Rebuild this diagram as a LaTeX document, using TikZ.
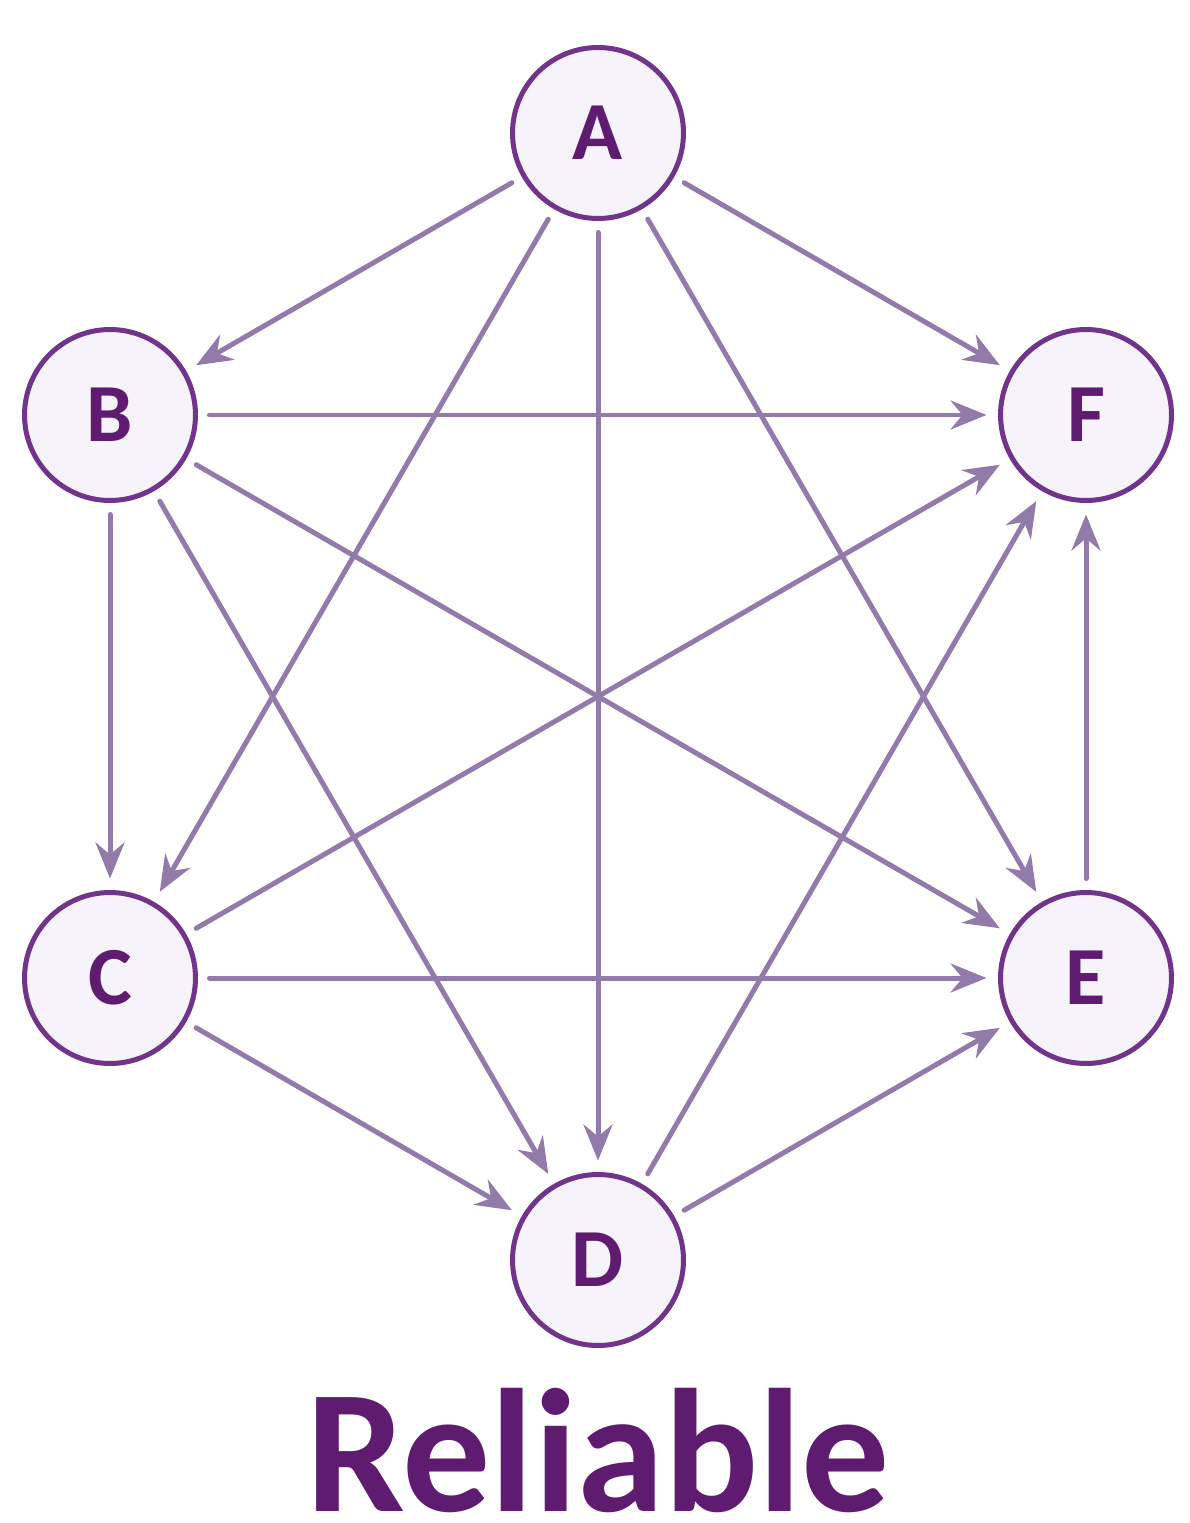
\documentclass[tikz,border=0pt]{standalone}
\usepackage{fontspec}
\setmainfont{Carlito}
\usetikzlibrary{arrows.meta}
\definecolor{vertline}{RGB}{112,52,138}
\definecolor{vertfill}{RGB}{246,243,250}
\definecolor{verttext}{RGB}{94,27,112}
\definecolor{edgecol}{RGB}{146,123,170}

\begin{document}
\begin{tikzpicture}[x=0.02cm, y=-0.02cm,
    vert/.style={circle, draw=vertline, fill=vertfill, line width=1mm, minimum size=3.42cm, inner sep=0pt, outer sep=0.28cm, text=verttext, font=\fontsize{47}{47}\selectfont\bfseries},
    arr/.style={-{Stealth[length=0.72cm, width=0.58cm, inset=0.24cm]}, draw=edgecol, line width=1mm, line cap=round}
]
\useasboundingbox (0,0) rectangle (1189,1523);
\node[vert] (A) at (598,133) {A};
\node[vert] (B) at (110,415) {B};
\node[vert] (F) at (1086,415) {F};
\node[vert] (C) at (110,978) {C};
\node[vert] (E) at (1086,978) {E};
\node[vert] (D) at (598,1260) {D};

\draw[arr] (A) -- (B);
\draw[arr] (A) -- (F);
\draw[arr] (A) -- (C);
\draw[arr] (A) -- (D);
\draw[arr] (A) -- (E);
\draw[arr] (B) -- (F);
\draw[arr] (B) -- (C);
\draw[arr] (B) -- (D);
\draw[arr] (B) -- (E);
\draw[arr] (C) -- (F);
\draw[arr] (C) -- (E);
\draw[arr] (C) -- (D);
\draw[arr] (D) -- (F);
\draw[arr] (D) -- (E);
\draw[arr] (E) -- (F);

\node[anchor=base, text=verttext, font=\fontsize{100}{100}\selectfont\bfseries, inner sep=0pt] (title) at (598,1511) {Reliable};
\end{tikzpicture}
\end{document}
